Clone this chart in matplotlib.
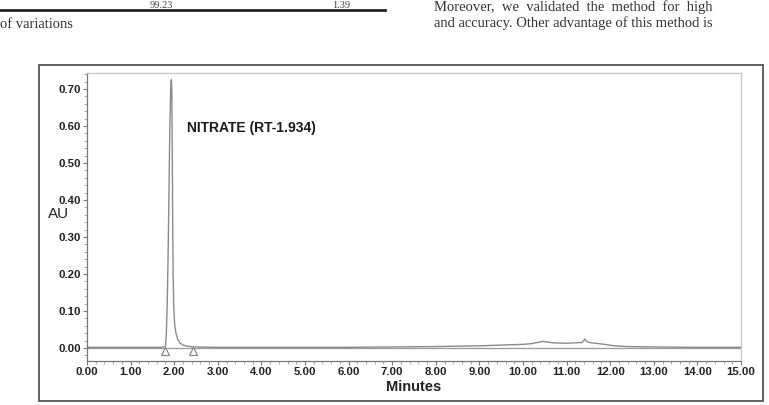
import matplotlib
matplotlib.use("Agg")
from matplotlib import pyplot as plt
from matplotlib.patches import Rectangle
from matplotlib.lines import Line2D
from matplotlib.ticker import MultipleLocator, FormatStrFormatter

# chromatogram trace (minutes, AU)
time_min = [0.00, 1.00, 1.70, 1.80, 1.82, 1.84, 1.86, 1.88, 1.90, 1.92, 1.934,
            1.945, 1.955, 1.965, 1.975, 1.99, 2.01, 2.04, 2.08, 2.13, 2.20,
            2.30, 2.45, 3.00, 4.00, 5.00, 6.00, 7.00, 8.00, 9.00, 9.50,
            10.00, 10.20, 10.45, 10.70, 11.00, 11.35, 11.42, 11.46, 11.52,
            11.80, 12.10, 12.40, 13.00, 14.00, 15.00]
au = [0.002, 0.002, 0.002, 0.004, 0.04, 0.12, 0.25, 0.42, 0.60, 0.70, 0.725,
      0.70, 0.55, 0.35, 0.20, 0.11, 0.065, 0.04, 0.024, 0.014, 0.008,
      0.005, 0.003, 0.002, 0.002, 0.002, 0.002, 0.003, 0.004, 0.006, 0.008,
      0.010, 0.012, 0.018, 0.014, 0.013, 0.015, 0.024, 0.018, 0.015,
      0.011, 0.006, 0.004, 0.003, 0.002, 0.002]

# integration start / end marks
mark_t = [1.80, 2.42]
mark_y = [-0.008, -0.008]

peak_label = "NITRATE (RT-1.934)"

fig = plt.figure(figsize=(7.69, 4.05), dpi=100)
plt.rcParams['font.family'] = ['Liberation Sans', 'DejaVu Sans']

# page text around the figure
fig.add_artist(Line2D([0, 385 / 769], [1 - 10 / 405, 1 - 10 / 405],
                      color="#222222", lw=2))
serif = dict(family="Liberation Serif", color="#333333", fontsize=10.5)
fig.text(161 / 769, 1 - 0.5 / 405, "99.23", ha="center", va="top",
         family="Liberation Serif", color="#444444", fontsize=7.5)
fig.text(341 / 769, 1 - 0.5 / 405, "1.39", ha="center", va="top",
         family="Liberation Serif", color="#444444", fontsize=7.5)
fig.text(0.0, 1 - 24 / 405, "of variations", ha="left", va="center", **serif)
fig.text(434 / 769, 1 - 7 / 405, "Moreover,  we  validated  the  method  for  high",
         ha="left", va="center", **serif)
fig.text(434 / 769, 1 - 23 / 405, "and accuracy. Other advantage of this method is",
         ha="left", va="center", **serif)

# outer frame of the figure
fig.add_artist(Rectangle((39 / 769, 1 - 400.5 / 405), (763 - 39) / 769,
                         (400.5 - 65) / 405, transform=fig.transFigure,
                         fill=False, edgecolor="#555555", lw=1.3))

ax = fig.add_axes([87 / 769, 1 - 361 / 405, (741 - 87) / 769, (361 - 73) / 405])

ax.axhline(0, color="#9a9a9a", lw=0.9)
ax.plot(time_min, au, color="#8a8a8a", lw=1.0)
ax.plot(mark_t, mark_y, linestyle="none", marker="^", markersize=6,
        markerfacecolor="white", markeredgecolor="#888888", markeredgewidth=0.9)

ax.text(2.29, 0.595, peak_label, fontsize=10, fontweight="bold", color="#1a1a1a",
        va="center", ha="left")

ax.set_xlim(0, 15)
ax.set_ylim(-0.035, 0.743)
ax.xaxis.set_major_locator(MultipleLocator(1))
ax.xaxis.set_minor_locator(MultipleLocator(0.2))
ax.yaxis.set_minor_locator(MultipleLocator(0.02))
ax.xaxis.set_major_formatter(FormatStrFormatter("%.2f"))
ax.yaxis.set_major_formatter(FormatStrFormatter("%.2f"))
ax.set_yticks([0.0, 0.1, 0.2, 0.3, 0.4, 0.5, 0.6, 0.7])

ax.tick_params(which="major", length=3, width=0.8, color="#777777",
               labelsize=8.2, labelcolor="#222222", pad=1.5)
ax.tick_params(which="minor", length=2, width=0.6, color="#999999")
for lab in ax.get_xticklabels() + ax.get_yticklabels():
    lab.set_fontweight("bold")

for side in ["top", "right"]:
    ax.spines[side].set_color("#c8c8c8")
    ax.spines[side].set_linewidth(1.0)
for side in ["left", "bottom"]:
    ax.spines[side].set_color("#777777")
    ax.spines[side].set_linewidth(0.9)

ax.set_xlabel("Minutes", fontsize=10.5, fontweight="bold", color="#222222", labelpad=2)
ax.text(-0.027, 0.51, "AU", transform=ax.transAxes, fontsize=11,
        color="#222222", ha="right", va="center")

fig.savefig("out.png", dpi=100)
